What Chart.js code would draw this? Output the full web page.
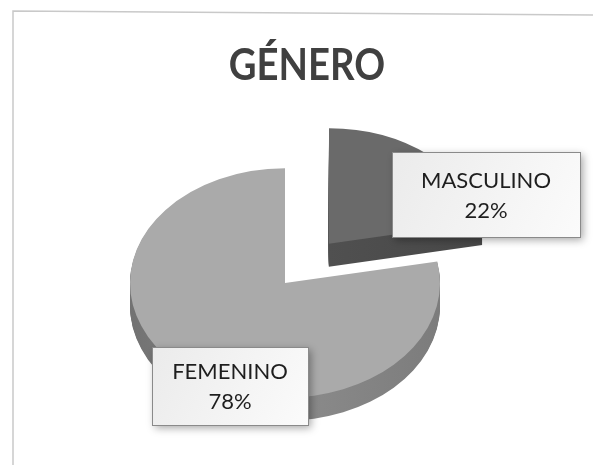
<!DOCTYPE html>
<html>
<head>
<meta charset="utf-8">
<script src="https://cdn.jsdelivr.net/npm/chart.js@4.4.1/dist/chart.umd.min.js"></script>
<style>
  html, body { margin: 0; padding: 0; background: #fff; }
  #wrap { position: relative; width: 593px; height: 465px; }
</style>
</head>
<body>
<div id="wrap"><canvas id="pieGenero"></canvas></div>
<script>
//------------------------------ DATA ----------------------------------
const chartTitle = 'GÉNERO';
const categories = ['MASCULINO', 'FEMENINO'];
const percentages = [22, 78];
const topColors = ['#6a6a6a', '#aaaaaa'];
const sideColors = ['#505050', '#8c8c8c'];
const explode = [275, 0];

// look of the fake 3D pie
const TILT = 0.74;
const DEPTH = 23;

// label boxes (x, y, w, h)
const labelBoxes = [
    { x: 392, y: 152, w: 188, h: 85 },
    { x: 152, y: 347, w: 156, h: 78 }
];

//------------------------------ HELPERS ----------------------------------
// squash the circle into an ellipse around the pie centre
function squash(ctx, cy) {
    ctx.translate(0, cy);
    ctx.scale(1, TILT);
    ctx.translate(0, -cy);
}

function drawLabelBox(ctx, box, lines) {
    ctx.save();
    ctx.shadowColor = 'rgba(0,0,0,0.35)';
    ctx.shadowBlur = 8;
    ctx.shadowOffsetX = 3;
    ctx.shadowOffsetY = 3;
    const g = ctx.createLinearGradient(box.x, box.y, box.x + box.w, box.y + box.h);
    g.addColorStop(0, '#ebebeb');
    g.addColorStop(1, '#fbfbfb');
    ctx.fillStyle = g;
    ctx.fillRect(box.x, box.y, box.w, box.h);
    ctx.restore();

    ctx.strokeStyle = '#8a8a8a';
    ctx.lineWidth = 1;
    ctx.strokeRect(box.x + 0.5, box.y + 0.5, box.w, box.h);

    ctx.fillStyle = '#1e1e1e';
    ctx.font = '22px Lato';
    ctx.textAlign = 'center';
    ctx.textBaseline = 'alphabetic';
    const cx = box.x + box.w / 2;
    const first = box.y + box.h / 2 - 7;
    lines.forEach((t, i) => ctx.fillText(t, cx, first + i * 30));
}

//------------------------------ 3D PIE PLUGIN ----------------------------------
const pie3d = {
    id: 'pie3d',
    beforeDraw(chart) {
        const ctx = chart.ctx;
        ctx.save();
        ctx.fillStyle = '#fff';
        ctx.fillRect(0, 0, chart.width, chart.height);
        // scanned frame (top + left only visible)
        ctx.strokeStyle = '#c9c9c9';
        ctx.lineWidth = 1.5;
        ctx.beginPath();
        ctx.moveTo(13, chart.height);
        ctx.lineTo(13, 11);
        ctx.lineTo(chart.width, 15);
        ctx.stroke();
        ctx.restore();
    },
    beforeDatasetsDraw(chart) {
        const ctx = chart.ctx;
        const arcs = chart.getDatasetMeta(0).data;
        const cy = arcs[0].y;
        // side walls: the same arcs stacked downwards in a darker tone
        for (let d = DEPTH; d > 0; d--) {
            arcs.forEach((arc, i) => {
                ctx.save();
                ctx.translate(0, d);
                squash(ctx, cy);
                const saved = arc.options;
                const side = ctx.createLinearGradient(arc.x - arc.outerRadius, 0, arc.x + arc.outerRadius, 0);
                side.addColorStop(0, i === 0 ? '#444' : '#727272');
                side.addColorStop(0.5, sideColors[i]);
                side.addColorStop(1, i === 0 ? '#474747' : '#7c7c7c');
                arc.options = Object.assign({}, saved, { backgroundColor: side, borderWidth: 0 });
                arc.draw(ctx);
                arc.options = saved;
                ctx.restore();
            });
        }
        ctx.save();
        squash(ctx, cy);
    },
    afterDatasetsDraw(chart) {
        chart.ctx.restore();
    },
    afterDraw(chart) {
        const ctx = chart.ctx;
        ctx.save();
        ctx.fillStyle = '#404040';
        ctx.font = 'bold 43px Lato';
        ctx.textAlign = 'center';
        ctx.textBaseline = 'alphabetic';
        // narrower title, like the Calibri original
        ctx.translate(307, 0);
        ctx.scale(0.89, 1);
        ctx.fillText(chartTitle, 0, 80);
        ctx.restore();

        ctx.save();
        categories.forEach((c, i) => {
            drawLabelBox(ctx, labelBoxes[i], [c, percentages[i] + '%']);
        });
        ctx.restore();
    }
};

//------------------------------ CHART ----------------------------------
new Chart(document.getElementById('pieGenero'), {
    type: 'pie',
    data: {
        labels: categories,
        datasets: [{
            data: percentages,
            backgroundColor: topColors,
            borderWidth: 0,
            offset: explode,
            hoverOffset: 0,
            clip: false
        }]
    },
    options: {
        responsive: true,
        maintainAspectRatio: false,
        animation: false,
        radius: 155,
        layout: { padding: { left: 0, right: 23, top: 101, bottom: 0 } },
        plugins: {
            legend: { display: false },
            tooltip: { enabled: false },
            title: { display: false }
        },
        events: []
    },
    plugins: [pie3d]
});
</script>
</body>
</html>
